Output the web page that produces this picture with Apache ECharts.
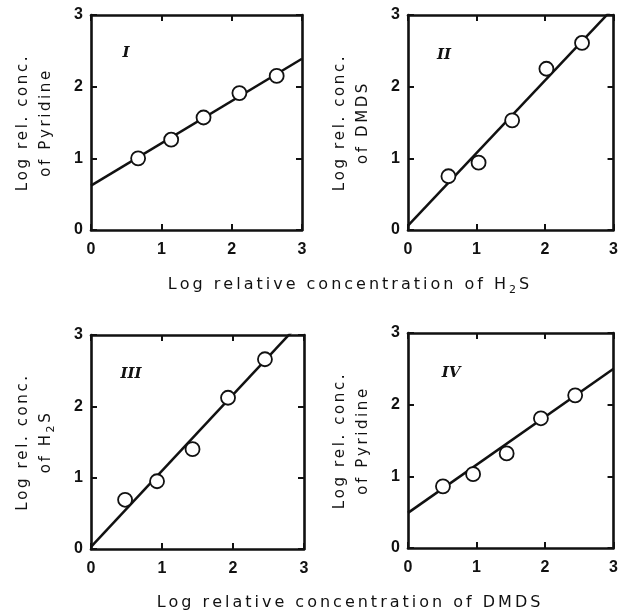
<!DOCTYPE html>
<html>
<head>
<meta charset="utf-8">
<script src="https://cdn.jsdelivr.net/npm/echarts@6/dist/echarts.min.js"></script>
<style>
html, body { margin: 0; padding: 0; background: #fff; }
#main { width: 621px; height: 614px; }
</style>
</head>
<body>
<div id="main"></div>
<script>
// panel I : pyridine vs H2S
var xI = [0.67, 1.14, 1.60, 2.11, 2.64];
var yI = [1.00, 1.26, 1.57, 1.91, 2.15];
var fitI = [[0, 0.62], [3, 2.39]];
// panel II : DMDS vs H2S
var xII = [0.59, 1.03, 1.52, 2.02, 2.54];
var yII = [0.75, 0.94, 1.53, 2.25, 2.61];
var fitII = [[0, 0.06], [3, 3.10]];
// panel III : H2S vs DMDS
var xIII = [0.48, 0.93, 1.43, 1.93, 2.45];
var yIII = [0.69, 0.95, 1.40, 2.12, 2.66];
var fitIII = [[0, 0.03], [3, 3.23]];
// panel IV : pyridine vs DMDS
var xIV = [0.51, 0.95, 1.44, 1.94, 2.44];
var yIV = [0.86, 1.03, 1.32, 1.81, 2.13];
var fitIV = [[0, 0.49], [3, 2.50]];

var panelNames = ["I", "II", "III", "IV"];
var yNames = [
  "Log rel. conc.\nof Pyridine",
  "Log rel. conc.\nof DMDS",
  "Log rel. conc.\nof H_2S",
  "Log rel. conc.\nof Pyridine"
];
var xNames = ["Log relative concentration of H_2S", "Log relative concentration of DMDS"];
var axisMin = 0, axisMax = 3, axisStep = 1;

var pointsX = [xI, xII, xIII, xIV];
var pointsY = [yI, yII, yIII, yIV];
var fits = [fitI, fitII, fitIII, fitIV];

// wide typewriter look: every char is a token with some right padding, "_" = subscript
function spaced(str) {
  var out = "";
  for (var i = 0; i < str.length; i++) {
    var ch = str[i];
    if (ch === "\n") { out += "\n"; }
    else if (ch === "_") { out += "{s|" + str[i + 1] + "}"; i++; }
    else { out += "{c|" + ch + "}"; }
  }
  return out;
}

var ink = "#111";
var fontTxt = "DejaVu Sans";
var grids = [
  { left: 91, top: 15, width: 211, height: 215 },
  { left: 408, top: 15, width: 211, height: 215 },
  { left: 91, top: 335, width: 213, height: 214 },
  { left: 408, top: 333, width: 211, height: 215 }
];
var numPos = [[126, 53], [444, 55], [131, 374], [451, 373]];

var xAxes = [], yAxes = [], series = [], graphics = [];
var frameLine = { show: true, onZero: false, lineStyle: { color: ink, width: 2.6 } };
var tickStyle = { show: true, inside: true, length: 6, lineStyle: { color: ink, width: 2 } };
var labelStyle = { color: ink, fontFamily: "Liberation Sans", fontWeight: "bold", fontSize: 16 };

grids.forEach(function (g, k) {
  xAxes.push({
    gridIndex: k, type: "value", position: "bottom",
    min: axisMin, max: axisMax, interval: axisStep,
    axisLine: frameLine,
    axisTick: tickStyle, splitLine: { show: false },
    axisLabel: Object.assign({ margin: 12 }, labelStyle)
  });
  xAxes.push({
    gridIndex: k, type: "value", position: "top",
    min: axisMin, max: axisMax, interval: axisStep,
    axisLine: frameLine,
    axisTick: tickStyle, splitLine: { show: false },
    axisLabel: { show: false }
  });
  yAxes.push({
    gridIndex: k, type: "value", position: "left",
    min: axisMin, max: axisMax, interval: axisStep,
    axisLine: frameLine,
    axisTick: tickStyle, splitLine: { show: false },
    axisLabel: Object.assign({ margin: 8 }, labelStyle),
    name: spaced(yNames[k]),
    nameLocation: "middle",
    nameRotate: 90,
    nameGap: 33,
    nameTextStyle: {
      rich: {
        c: { fontFamily: fontTxt, fontSize: 15, color: ink, lineHeight: 23, padding: [0, 2.6, 0, 0] },
        s: { fontFamily: fontTxt, fontSize: 11, color: ink, lineHeight: 13, padding: [9, 2.6, 0, 0] }
      }
    }
  });
  yAxes.push({
    gridIndex: k, type: "value", position: "right",
    min: axisMin, max: axisMax, interval: axisStep,
    axisLine: frameLine,
    axisTick: tickStyle, splitLine: { show: false },
    axisLabel: { show: false }
  });

  series.push({
    type: "line",
    xAxisIndex: 2 * k, yAxisIndex: 2 * k,
    data: fits[k],
    symbol: "none",
    clip: true,
    lineStyle: { color: ink, width: 2.5 },
    z: 2
  });
  series.push({
    type: "scatter",
    xAxisIndex: 2 * k, yAxisIndex: 2 * k,
    data: pointsX[k].map(function (v, i) { return [v, pointsY[k][i]]; }),
    symbol: "circle",
    symbolSize: 14,
    itemStyle: { color: "#fff", borderColor: ink, borderWidth: 1.8, opacity: 1 },
    z: 3
  });

  graphics.push({
    type: "text",
    x: numPos[k][0], y: numPos[k][1],
    style: {
      text: panelNames[k],
      font: "italic bold 15px 'DejaVu Serif'",
      fill: ink,
      align: "center",
      verticalAlign: "middle"
    }
  });
});

[[350, 285], [350, 603]].forEach(function (p, k) {
  graphics.push({
    type: "text",
    x: p[0], y: p[1],
    style: {
      text: spaced(xNames[k]),
      align: "center",
      verticalAlign: "middle",
      rich: {
        c: { fontFamily: fontTxt, fontSize: 16, fill: ink, lineHeight: 24, padding: [0, 3, 0, 0] },
        s: { fontFamily: fontTxt, fontSize: 11, fill: ink, lineHeight: 14, padding: [10, 3, 0, 0] }
      }
    }
  });
});

var chart = echarts.init(document.getElementById("main"));
chart.setOption({
  animation: false,
  backgroundColor: "#fff",
  grid: grids,
  xAxis: xAxes,
  yAxis: yAxes,
  series: series,
  graphic: graphics
});
</script>
</body>
</html>
